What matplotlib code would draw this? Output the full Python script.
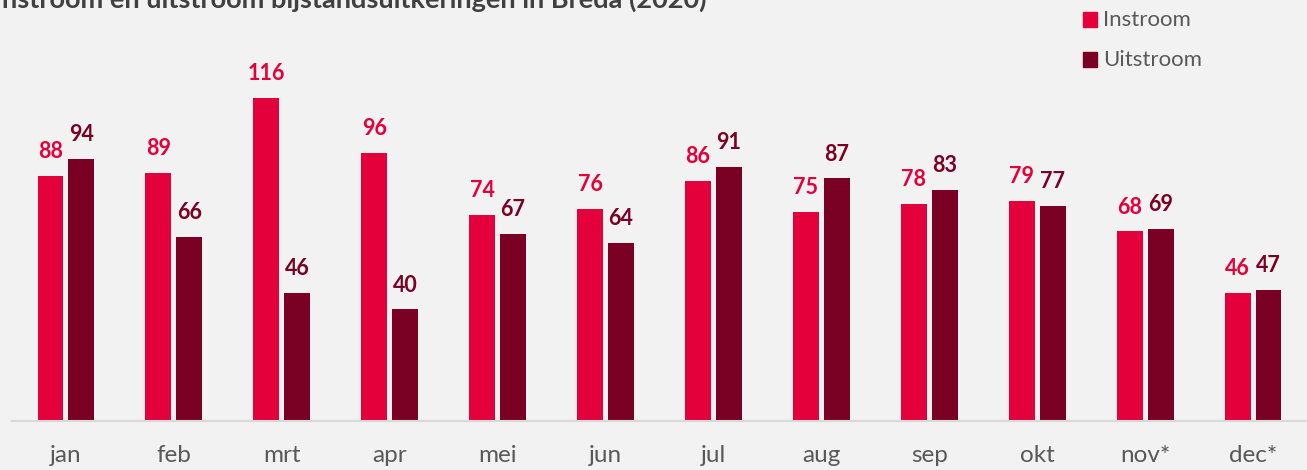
import matplotlib
matplotlib.use("Agg")
import matplotlib.pyplot as plt
from matplotlib.patches import Rectangle
import numpy as np

months = ["jan", "feb", "mrt", "apr", "mei", "jun", "jul", "aug", "sep", "okt", "nov*", "dec*"]
instroom = [88, 89, 116, 96, 74, 76, 86, 75, 78, 79, 68, 46]
uitstroom = [94, 66, 46, 40, 67, 64, 91, 87, 83, 77, 69, 47]
series_names = ["Instroom", "Uitstroom"]

c_in = "#E4003A"
c_out = "#7A0024"
bg = "#F2F2F2"
font = ["Lato", "DejaVu Sans"]
plt.rcParams["font.family"] = font

W, H = 1307, 470
fig = plt.figure(figsize=(W / 100, H / 100), dpi=100, facecolor=bg)
ax = fig.add_axes([12 / W, (H - 421) / H, 1 - 12 / W, 421 / H], facecolor=bg)

x = np.arange(len(months))
bw = 0.24
off = 0.143
b1 = ax.bar(x - off, instroom, width=bw, color=c_in, label=series_names[0], zorder=2)
b2 = ax.bar(x + off, uitstroom, width=bw, color=c_out, label=series_names[1], zorder=2)

for xi, v in zip(x, instroom):
    ax.annotate(str(v), (xi - off, v), xytext=(0, 10), textcoords="offset points",
                ha="center", va="bottom", color=c_in, fontsize=15.5, fontweight="bold")
for xi, v in zip(x, uitstroom):
    ax.annotate(str(v), (xi + off, v), xytext=(0, 10), textcoords="offset points",
                ha="center", va="bottom", color=c_out, fontsize=15.5, fontweight="bold")

ax.set_xlim(-0.5, len(months) - 0.5)
ax.set_ylim(0, 151)
ax.set_yticks([])
ax.set_xticks(x)
ax.set_xticklabels(months, fontsize=17.5, color="#595959")
ax.tick_params(axis="x", length=0, pad=17)
for s in ["top", "right", "left"]:
    ax.spines[s].set_visible(False)
ax.spines["bottom"].set_color("#D9D9D9")
ax.spines["bottom"].set_linewidth(1.5)

# legend (manual, to match placement)
for name, col, (y0, y1) in zip(series_names, [c_in, c_out], [(12, 27), (52, 67)]):
    fig.add_artist(Rectangle((1083 / W, 1 - y1 / H), 14 / W, (y1 - y0) / H,
                             transform=fig.transFigure, color=col))
    fig.text(1103 / W, 1 - ((y0 + y1) / 2 + 1) / H, name, fontsize=16,
             color="#595959", ha="left", va="center")

fig.text(-6 / W, 1 - 8 / H, "Instroom en uitstroom bijstandsuitkeringen in Breda (2020)",
         fontsize=19.5, fontweight="bold", color="#404040", ha="left", va="baseline")

fig.savefig("out.png", dpi=100, facecolor=bg)
